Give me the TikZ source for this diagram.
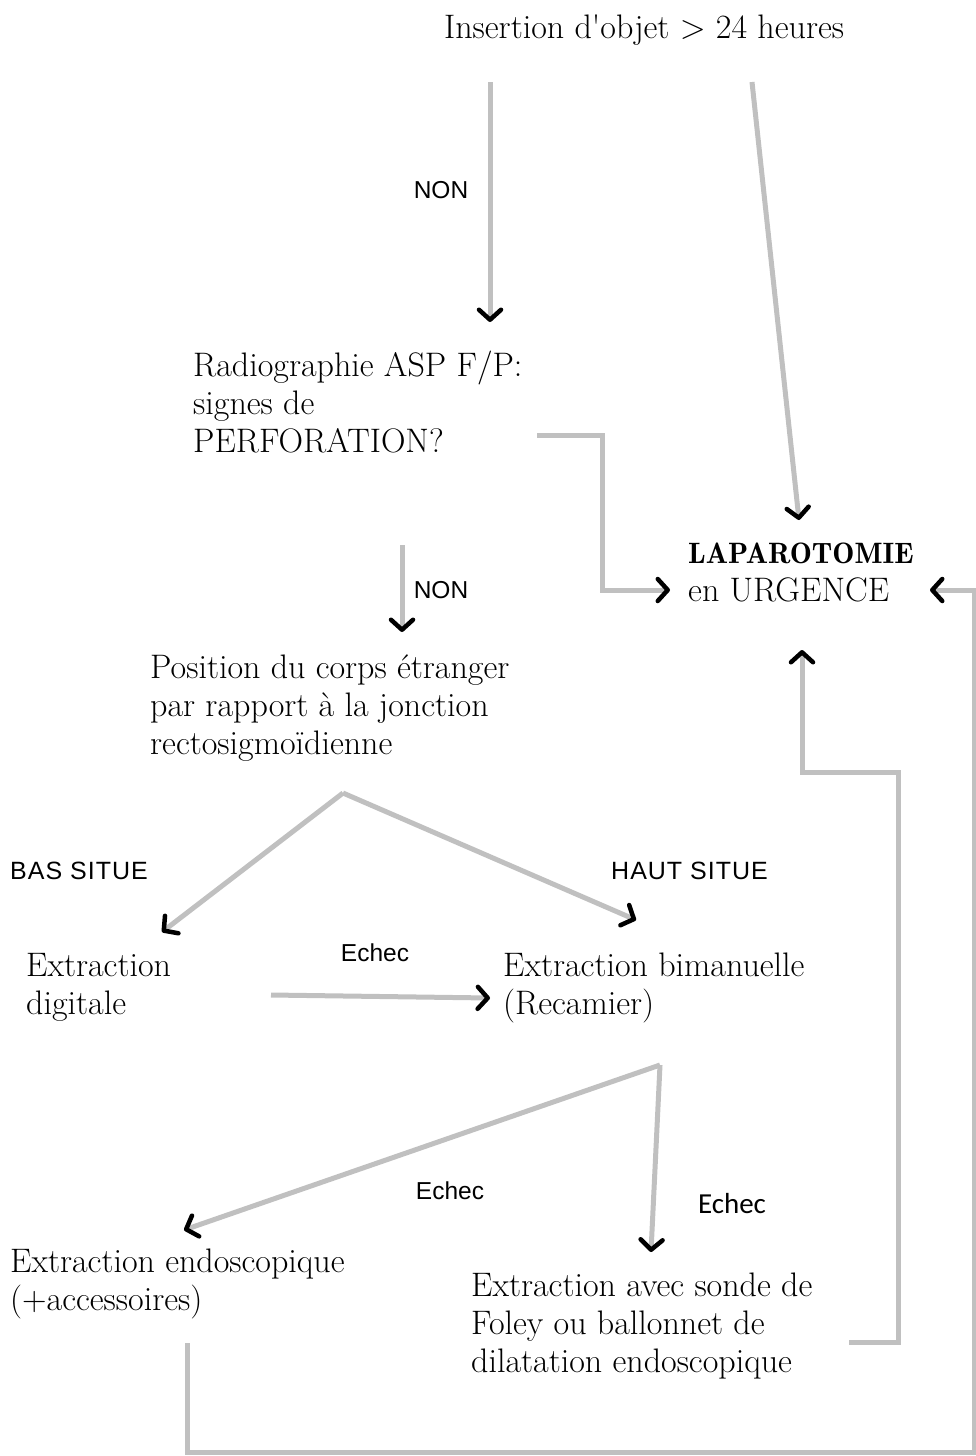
\documentclass[tikz,border=0pt]{standalone}
\usepackage{fontspec}
\usepackage{tikz}
\usetikzlibrary{arrows.meta}
\newfontfamily\labelfont{Liberation Sans}
\newfontfamily\spacedfont{Liberation Sans}[LetterSpace=4]
\newfontfamily\echecfont{Carlito}
\newfontfamily\demifont{lmromandemi10-regular.otf}
\definecolor{linegray}{RGB}{192,192,192}

\tikzset{
	box/.style = {anchor=base west, align=left, inner sep=0pt, font=\fontsize{34}{38}\selectfont},
	tag/.style = {inner sep=0pt, font=\labelfont\fontsize{24.5}{28}\selectfont},
	side/.style = {anchor=west, inner sep=0pt, font=\spacedfont\fontsize{25}{28}\selectfont},
	conn/.style = {draw=linegray, line width=5pt, line join=miter, -{Straight Barb[color=black, length=10pt, width=22pt, line width=4.5pt, round]}}
}

\begin{document}
\begin{tikzpicture}[x=1pt, y=-1pt]
	\useasboundingbox (0,0) rectangle (976,1456);
	
	\node [box] (insertion) at (444,38) {Insertion d\textquotesingle objet > 24 heures};
	\node [box] (radio) at (193,452) {Radiographie ASP F/P:\\signes de\\PERFORATION?};
	\node [box] (lapa) at (688,601) {{\demifont\fontsize{29.5}{38}\selectfont LAPAROTOMIE}\\en URGENCE};
	\node [box] (position) at (150,754) {Position du corps étranger\\par rapport à la jonction\\rectosigmoïdienne};
	\node [box] (digitale) at (26,1014) {Extraction\\digitale};
	\node [box] (bimanuelle) at (503,1014) {Extraction bimanuelle\\(Recamier)};
	\node [box] (endo) at (10,1310) {Extraction endoscopique\\(+accessoires)};
	\node [box] (sonde) at (471,1372) {Extraction avec sonde de\\Foley ou ballonnet de\\dilatation endoscopique};
	
	\node [tag] (non1) at (441,190) {NON};
	\node [tag] (non2) at (441,590) {NON};
	\node [side] (bas) at (10,871) {BAS SITUE};
	\node [side] (haut) at (611,871) {HAUT SITUE};
	\node [tag] (echec1) at (375,953) {Echec};
	\node [tag] (echec2) at (450,1191) {Echec};
	\node [inner sep=0pt, font=\echecfont\fontsize{29}{32}\selectfont] (echec3) at (732,1204) {Echec};
	
	% points de passage
	\coordinate (p1a) at (490,82);
	\coordinate (p1b) at (490,322);
	\coordinate (p2a) at (752,82);
	\coordinate (p2b) at (799,520);
	\coordinate (p3a) at (537,435);
	\coordinate (p3b) at (602,435);
	\coordinate (p3c) at (602,590);
	\coordinate (p3d) at (670,590);
	\coordinate (p4a) at (402,545);
	\coordinate (p4b) at (402,632);
	\coordinate (fork1) at (343,793);
	\coordinate (p5a) at (162,932);
	\coordinate (p5b) at (636,920);
	\coordinate (p6a) at (271,995);
	\coordinate (p6b) at (490,998);
	\coordinate (fork2) at (660,1065);
	\coordinate (p7a) at (184,1230);
	\coordinate (p7b) at (651,1252);
	\coordinate (p8a) at (849,1342);
	\coordinate (p8b) at (898,1342);
	\coordinate (p8c) at (898,772);
	\coordinate (p8d) at (802,772);
	\coordinate (p8e) at (802,650);
	\coordinate (p9a) at (187,1343);
	\coordinate (p9b) at (187,1452);
	\coordinate (p9c) at (974,1452);
	\coordinate (p9d) at (974,590);
	\coordinate (p9e) at (930,590);
	
	\draw [conn] (p1a) -- (p1b);
	\draw [conn] (p2a) -- (p2b);
	\draw [conn] (p3a) -- (p3b) -- (p3c) -- (p3d);
	\draw [conn] (p4a) -- (p4b);
	\draw [conn] (fork1) -- (p5a);
	\draw [conn] (fork1) -- (p5b);
	\draw [conn] (p6a) -- (p6b);
	\draw [conn] (fork2) -- (p7a);
	\draw [conn] (fork2) -- (p7b);
	\draw [conn] (p8a) -- (p8b) -- (p8c) -- (p8d) -- (p8e);
	\draw [conn] (p9a) -- (p9b) -- (p9c) -- (p9d) -- (p9e);
\end{tikzpicture}
\end{document}
